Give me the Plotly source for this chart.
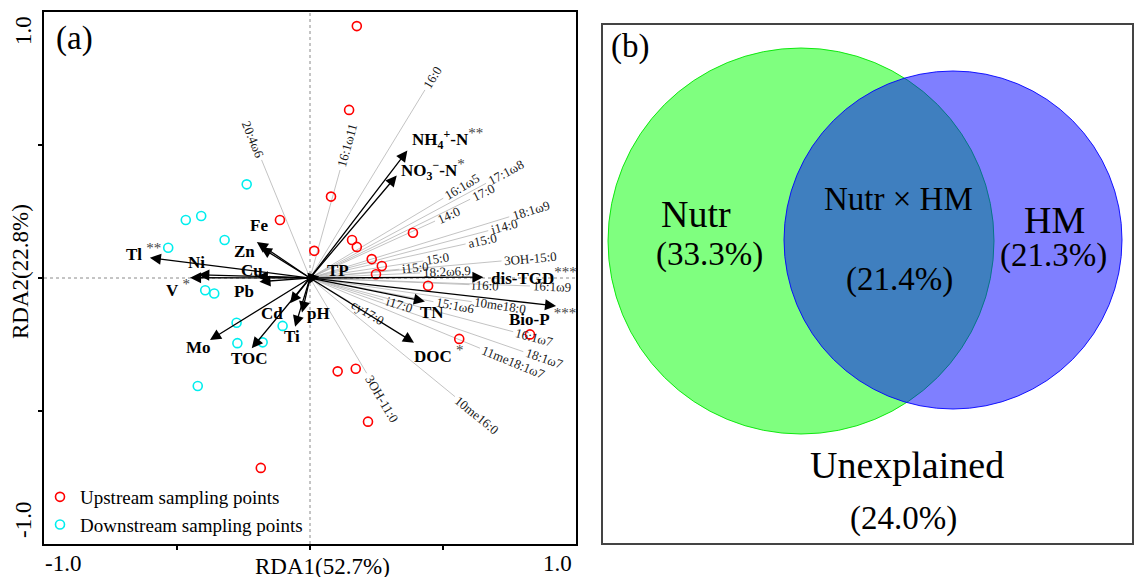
import math
import plotly.graph_objects as go

# ---------------- data ----------------
# sample scores (RDA1, RDA2)
up_x = [0.176, 0.147, 0.079, -0.113, 0.016, 0.158, 0.176, 0.387, 0.232, 0.270, 0.248, 0.444,
        0.561, 0.827, 0.104, 0.172, 0.218, -0.185]
up_y = [0.947, 0.632, 0.306, 0.218, 0.102, 0.143, 0.117, 0.170, 0.071, 0.045, 0.014, -0.029,
        -0.229, -0.212, -0.351, -0.341, -0.540, -0.714]
down_x = [-0.238, -0.467, -0.409, -0.321, -0.533, -0.394, -0.360, -0.276, -0.103, -0.273, -0.178, -0.422]
down_y = [0.352, 0.218, 0.233, 0.143, 0.114, -0.046, -0.058, -0.168, -0.180, -0.245, -0.242, -0.406]

# environmental variables (black arrows)
env_names = ["NH4+-N", "NO3−-N", "TP", "dis-TGD", "Bio-P", "TN", "DOC", "pH", "Ti", "Cd",
             "TOC", "Mo", "Pb", "V", "Ni", "Cu", "Tl", "Zn", "Fe"]
env_x = [0.366, 0.326, 0.035, 0.652, 0.925, 0.432, 0.391, -0.030, -0.056, -0.075,
         -0.219, -0.376, -0.190, -0.451, -0.420, -0.200, -0.602, -0.185, -0.200]
env_y = [0.479, 0.385, 0.006, 0.003, -0.105, -0.088, -0.243, -0.130, -0.183, -0.095,
         -0.264, -0.233, -0.014, 0.001, 0.012, 0.006, 0.076, 0.115, 0.135]
env_sig = ["**", "*", "", "***", "***", "", "*", "", "", "",
           "", "", "", "*", "", "", "**", "", ""]

# PLFA species (grey lines)
sp_names = ["20:4ω6", "16:0", "16:1ω11", "16:1ω5", "17:0", "17:1ω8", "14:0", "18:1ω9", "i14:0",
            "a15:0", "15:0", "3OH-15:0", "i15:0", "18:2ω6,9", "i16:0", "16:1ω9", "i17:0",
            "15:1ω6", "10me18:0", "cy17:0", "16:1ω7", "18:1ω7", "11me18:1ω7", "10me16:0", "3OH-11:0"]
sp_x = [-0.182, 0.432, 0.113, 0.501, 0.602, 0.662, 0.470, 0.749, 0.670,
        0.585, 0.426, 0.720, 0.336, 0.414, 0.600, 0.827, 0.276,
        0.464, 0.608, 0.150, 0.764, 0.802, 0.639, 0.545, 0.213]
sp_y = [0.444, 0.707, 0.406, 0.300, 0.296, 0.356, 0.214, 0.230, 0.178,
        0.128, 0.064, 0.064, 0.033, 0.019, -0.025, -0.030, -0.083,
        -0.089, -0.089, -0.090, -0.202, -0.277, -0.264, -0.446, -0.358]

axis_pct = [52.7, 22.8]

# variation partitioning
venn_labels = ["Nutr", "Nutr × HM", "HM", "Unexplained"]
venn_values = [33.3, 21.4, 21.3, 24.0]

# ---------------- layout helpers ----------------
W, H = 1135, 577
SERIF = "Liberation Serif, Times New Roman, serif"
L_X0, L_X1, L_Y0, L_Y1 = 44, 576, 12, 544        # left panel box (px)
PXU = (L_X1 - L_X0) / 2.0                          # px per data unit
R_X0, R_X1, R_Y0, R_Y1 = 603, 1132, 25, 543        # right panel box (px)

fig = go.Figure()

# grey species lines
lx, ly = [], []
for x, y in zip(sp_x, sp_y):
    lx += [0, x, None]
    ly += [0, y, None]
fig.add_trace(go.Scatter(x=lx, y=ly, mode="lines", line=dict(color="#b4b4b4", width=0.8),
                         showlegend=False, hoverinfo="skip"))

# samples
fig.add_trace(go.Scatter(x=up_x, y=up_y, mode="markers", name="Upstream sampling points",
                         marker=dict(symbol="circle-open", size=9, color="#ff0000",
                                     line=dict(width=1.6, color="#ff0000"))))
fig.add_trace(go.Scatter(x=down_x, y=down_y, mode="markers", name="Downstream sampling points",
                         marker=dict(symbol="circle-open", size=9, color="#00eeee",
                                     line=dict(width=1.6, color="#00eeee"))))

ann = []

# species labels placed along the line direction beyond the end
cw = {':': 0.278, ',': 0.25, '-': 0.333, 'i': 0.278, 'a': 0.444, 'c': 0.444, 'y': 0.5,
      'm': 0.778, 'e': 0.444, 'O': 0.722, 'H': 0.722, 'ω': 0.69}
SP_FS = 13
for name, x, y in zip(sp_names, sp_x, sp_y):
    w = sum(cw.get(ch, 0.5) for ch in name) * SP_FS
    ang = math.degrees(math.atan2(y, x))
    n = math.hypot(x, y)
    ux, uy = x / n, y / n
    d = (3 + w / 2) / PXU
    tx, ty = x + ux * d, y + uy * d
    ta = -ang if x >= 0 else 180 - ang
    ann.append(dict(x=tx, y=ty, xref="x", yref="y", text=name, showarrow=False,
                    textangle=ta, xanchor="center", yanchor="middle",
                    font=dict(family=SERIF, size=SP_FS, color="#1a1a1a")))

# environmental arrows
for x, y in zip(env_x, env_y):
    ann.append(dict(x=x, y=y, ax=0, ay=0, xref="x", yref="y", axref="x", ayref="y",
                    text="", showarrow=True, arrowhead=2, arrowsize=1.7, arrowwidth=1.3,
                    arrowcolor="black", standoff=0, startstandoff=0))

env_html = {"NH4+-N": "NH<sub>4</sub><sup>+</sup>-N", "NO3−-N": "NO<sub>3</sub><sup>−</sup>-N"}
# label offsets (px) of the label's left edge / vertical middle from the arrow tip
env_off = {"NH4+-N": (3, -12), "NO3−-N": (2, -6), "TP": (6, -6), "dis-TGD": (6, -1),
           "Bio-P": (-49, 11), "TN": (-7, 11), "DOC": (-2, 11), "pH": (3, 1), "Ti": (-13, 10),
           "Cd": (-31, 10), "TOC": (-23, 10), "Mo": (-26, 8), "Pb": (-27, 10), "V": (-26, 10),
           "Ni": (-12, -12), "Cu": (-18, -6), "Tl": (-26, -6), "Zn": (-29, 4), "Fe": (-9, -17)}
gap_sig = {"Bio-P", "V", "Tl", "DOC"}
for name, x, y, s in zip(env_names, env_x, env_y, env_sig):
    t = "<b>" + env_html.get(name, name) + "</b>"
    if s:
        t += ("&nbsp;" if name in gap_sig else "") + \
            "<sup><span style='font-size:15px;color:#444'>" + s + "</span></sup>"
    dx, dy = env_off[name]
    ann.append(dict(x=x + dx / PXU, y=y - dy / PXU, xref="x", yref="y", text=t, showarrow=False,
                    xanchor="left", yanchor="middle",
                    font=dict(family=SERIF, size=17, color="black")))

# axis texts (left panel)
def px2paper(px, py):
    return px / W, 1 - py / H

for txt, (px, py), ang, fs in [
        ("(a)", (74, 38), 0, 33),
        ("-1.0", (63, 563), 0, 23), ("1.0", (557, 563), 0, 23),
        ("RDA1(%.1f%%)" % axis_pct[0], (322, 566), 0, 23),
        ("1.0", (24, 31), -90, 23), ("-1.0", (23, 520), -90, 23),
        ("RDA2(%.1f%%)" % axis_pct[1], (20, 272), -90, 23)]:
    xp, yp = px2paper(px, py)
    ann.append(dict(x=xp, y=yp, xref="paper", yref="paper", text=txt, showarrow=False,
                    textangle=ang, xanchor="center", yanchor="middle",
                    font=dict(family=SERIF, size=fs, color="black")))

# Venn texts (right panel, pixel coordinates on x2/y2)
venn_name_pos = {"Nutr": (696, 214), "Nutr × HM": (898, 199), "HM": (1054, 220), "Unexplained": (907, 465)}
venn_val_pos = {"Nutr": (709, 255), "Nutr × HM": (899, 279), "HM": (1053, 256), "Unexplained": (903, 518)}
venn_name_fs = {"Nutr": 38, "Nutr × HM": 33, "HM": 38, "Unexplained": 38}
for lab, v in zip(venn_labels, venn_values):
    nx, ny = venn_name_pos[lab]
    vx, vy = venn_val_pos[lab]
    ann.append(dict(x=nx, y=ny, xref="x2", yref="y2", text=lab, showarrow=False,
                    xanchor="center", yanchor="middle",
                    font=dict(family=SERIF, size=venn_name_fs[lab], color="black")))
    ann.append(dict(x=vx, y=vy, xref="x2", yref="y2", text="(%.1f%%)" % v, showarrow=False,
                    xanchor="center", yanchor="middle",
                    font=dict(family=SERIF, size=33, color="black")))
ann.append(dict(x=630, y=47, xref="x2", yref="y2", text="(b)", showarrow=False,
                xanchor="center", yanchor="middle", font=dict(family=SERIF, size=33, color="black")))

shapes = [
    dict(type="line", xref="x", yref="y", x0=0, x1=0, y0=-1, y1=1,
         line=dict(color="#8a8a8a", width=1, dash="dot"), layer="below"),
    dict(type="line", xref="x", yref="y", x0=-1, x1=1, y0=0, y1=0,
         line=dict(color="#8a8a8a", width=1, dash="dot"), layer="below"),
]
# Venn circles
gcx, gcy, gr = 801, 241, 193
bcx, bcy, br = 953, 240, 169
shapes.append(dict(type="circle", xref="x2", yref="y2", x0=gcx - gr, x1=gcx + gr, y0=gcy - gr, y1=gcy + gr,
                   fillcolor="rgba(0,255,0,0.5)", line=dict(color="rgba(0,230,0,0.9)", width=1)))
shapes.append(dict(type="circle", xref="x2", yref="y2", x0=bcx - br, x1=bcx + br, y0=bcy - br, y1=bcy + br,
                   fillcolor="rgba(0,0,255,0.5)", line=dict(color="rgba(0,0,255,0.9)", width=1)))

fig.update_layout(
    width=W, height=H, margin=dict(l=0, r=0, t=0, b=0),
    paper_bgcolor="white", plot_bgcolor="white",
    font=dict(family=SERIF, color="black"),
    xaxis=dict(domain=[L_X0 / W, L_X1 / W], range=[-1, 1], showgrid=False, zeroline=False,
               showline=True, linecolor="black", linewidth=2, mirror=True,
               ticks="outside", ticklen=4, tickwidth=1.5, tickcolor="black",
               tickvals=[-0.5, 0, 0.5], showticklabels=False),
    yaxis=dict(domain=[1 - L_Y1 / H, 1 - L_Y0 / H], range=[-1, 1], showgrid=False, zeroline=False,
               showline=True, linecolor="black", linewidth=2, mirror=True,
               ticks="outside", ticklen=4, tickwidth=1.5, tickcolor="black",
               tickvals=[-0.5, 0, 0.5], showticklabels=False),
    xaxis2=dict(domain=[R_X0 / W, R_X1 / W], range=[R_X0, R_X1], showgrid=False, zeroline=False,
                showline=True, linecolor="#444", linewidth=1.5, mirror=True, showticklabels=False,
                ticks="", anchor="y2"),
    yaxis2=dict(domain=[1 - R_Y1 / H, 1 - R_Y0 / H], range=[R_Y1, R_Y0], showgrid=False, zeroline=False,
                showline=True, linecolor="#444", linewidth=1.5, mirror=True, showticklabels=False,
                ticks="", anchor="x2"),
    legend=dict(x=40 / W, y=1 - 478 / H, xanchor="left", yanchor="top",
                font=dict(family=SERIF, size=19, color="black"), bgcolor="rgba(0,0,0,0)",
                tracegroupgap=0),
    annotations=ann, shapes=shapes, showlegend=True,
)

fig.write_html("out.html", config={"displayModeBar": False},
               post_script="document.body.style.margin='0';document.body.style.overflow='hidden';")
